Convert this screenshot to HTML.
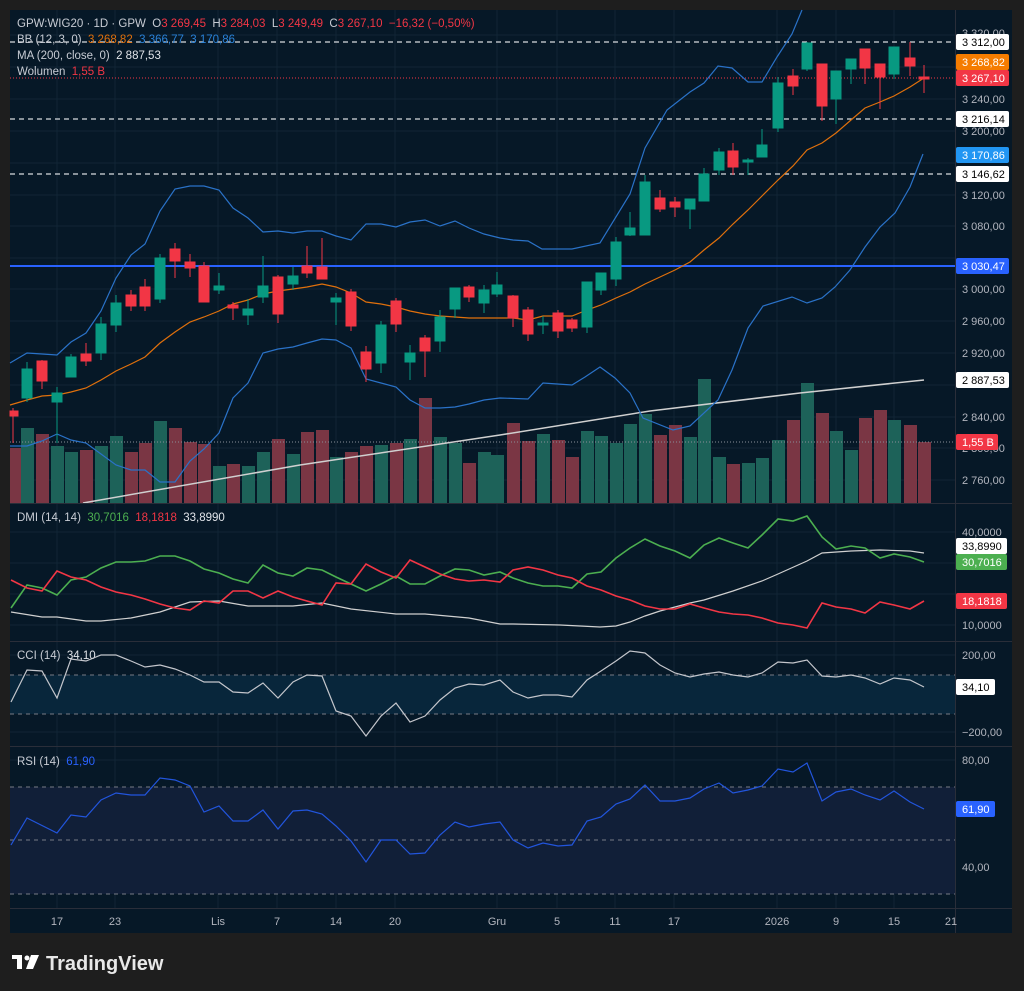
<!DOCTYPE html>
<html><head><meta charset="utf-8"><style>
html,body{margin:0;padding:0;background:#1e1e1e;}
svg{display:block;font-family:"Liberation Sans",sans-serif;}
.ax{fill:#b2b5be;font-size:11px;}
.lg{font-size:11.5px;fill:#c8ccd4;white-space:pre;}
</style></head><body>
<svg width="1024" height="991" viewBox="0 0 1024 991" xmlns="http://www.w3.org/2000/svg" xml:space="preserve">
<rect width="1024" height="991" fill="#1e1e1e"/>
<rect x="10" y="10" width="1002" height="923" fill="#061827"/>
<g stroke="#112536" stroke-width="1">
<line x1="57" y1="10" x2="57" y2="908"/><line x1="115" y1="10" x2="115" y2="908"/><line x1="218" y1="10" x2="218" y2="908"/><line x1="277" y1="10" x2="277" y2="908"/><line x1="336" y1="10" x2="336" y2="908"/><line x1="395" y1="10" x2="395" y2="908"/><line x1="497" y1="10" x2="497" y2="908"/><line x1="557" y1="10" x2="557" y2="908"/><line x1="615" y1="10" x2="615" y2="908"/><line x1="674" y1="10" x2="674" y2="908"/><line x1="777" y1="10" x2="777" y2="908"/><line x1="836" y1="10" x2="836" y2="908"/><line x1="894" y1="10" x2="894" y2="908"/>
<line x1="10" y1="35" x2="955" y2="35"/><line x1="10" y1="67" x2="955" y2="67"/><line x1="10" y1="99" x2="955" y2="99"/><line x1="10" y1="131" x2="955" y2="131"/><line x1="10" y1="163" x2="955" y2="163"/><line x1="10" y1="195" x2="955" y2="195"/><line x1="10" y1="226" x2="955" y2="226"/><line x1="10" y1="258" x2="955" y2="258"/><line x1="10" y1="289" x2="955" y2="289"/><line x1="10" y1="321" x2="955" y2="321"/><line x1="10" y1="353" x2="955" y2="353"/><line x1="10" y1="385" x2="955" y2="385"/><line x1="10" y1="417" x2="955" y2="417"/><line x1="10" y1="448" x2="955" y2="448"/><line x1="10" y1="480" x2="955" y2="480"/>
<line x1="10" y1="532" x2="955" y2="532"/><line x1="10" y1="563" x2="955" y2="563"/><line x1="10" y1="594" x2="955" y2="594"/><line x1="10" y1="625" x2="955" y2="625"/>
<line x1="10" y1="655" x2="955" y2="655"/><line x1="10" y1="693" x2="955" y2="693"/><line x1="10" y1="732" x2="955" y2="732"/>
<line x1="10" y1="760" x2="955" y2="760"/><line x1="10" y1="814" x2="955" y2="814"/><line x1="10" y1="867" x2="955" y2="867"/>
</g>
<g fill="#1d6259">
<rect x="21" y="428" width="13" height="75"/><rect x="51" y="446" width="13" height="57"/><rect x="65" y="452" width="13" height="51"/><rect x="95" y="446" width="13" height="57"/><rect x="110" y="436" width="13" height="67"/><rect x="154" y="421" width="13" height="82"/><rect x="213" y="466" width="13" height="37"/><rect x="242" y="466" width="13" height="37"/><rect x="257" y="452" width="13" height="51"/><rect x="287" y="454" width="13" height="49"/><rect x="330" y="457" width="13" height="46"/><rect x="375" y="445" width="13" height="58"/><rect x="404" y="439" width="13" height="64"/><rect x="434" y="437" width="13" height="66"/><rect x="449" y="443" width="13" height="60"/><rect x="478" y="452" width="13" height="51"/><rect x="491" y="455" width="13" height="48"/><rect x="537" y="434" width="13" height="69"/><rect x="581" y="431" width="13" height="72"/><rect x="595" y="436" width="13" height="67"/><rect x="610" y="443" width="13" height="60"/><rect x="624" y="424" width="13" height="79"/><rect x="639" y="414" width="13" height="89"/><rect x="684" y="437" width="13" height="66"/><rect x="698" y="379" width="13" height="124"/><rect x="713" y="457" width="13" height="46"/><rect x="742" y="463" width="13" height="40"/><rect x="756" y="458" width="13" height="45"/><rect x="772" y="440" width="13" height="63"/><rect x="801" y="383" width="13" height="120"/><rect x="830" y="431" width="13" height="72"/><rect x="845" y="450" width="13" height="53"/><rect x="888" y="420" width="13" height="83"/>
</g>
<g fill="#7a3644">
<rect x="10" y="448" width="11" height="55"/><rect x="36" y="434" width="13" height="69"/><rect x="80" y="450" width="13" height="53"/><rect x="125" y="452" width="13" height="51"/><rect x="139" y="443" width="13" height="60"/><rect x="169" y="428" width="13" height="75"/><rect x="184" y="442" width="13" height="61"/><rect x="198" y="444" width="13" height="59"/><rect x="227" y="464" width="13" height="39"/><rect x="272" y="439" width="13" height="64"/><rect x="301" y="432" width="13" height="71"/><rect x="316" y="430" width="13" height="73"/><rect x="345" y="452" width="13" height="51"/><rect x="360" y="446" width="13" height="57"/><rect x="390" y="443" width="13" height="60"/><rect x="419" y="398" width="13" height="105"/><rect x="463" y="463" width="13" height="40"/><rect x="507" y="423" width="13" height="80"/><rect x="522" y="441" width="13" height="62"/><rect x="552" y="440" width="13" height="63"/><rect x="566" y="457" width="13" height="46"/><rect x="654" y="435" width="13" height="68"/><rect x="669" y="425" width="13" height="78"/><rect x="727" y="464" width="13" height="39"/><rect x="787" y="420" width="13" height="83"/><rect x="816" y="413" width="13" height="90"/><rect x="859" y="418" width="13" height="85"/><rect x="874" y="410" width="13" height="93"/><rect x="904" y="425" width="13" height="78"/><rect x="918" y="442" width="13" height="61"/>
</g>
<line x1="10" y1="42" x2="955" y2="42" stroke="#d8dbe0" stroke-width="1.3" stroke-dasharray="5,4"/>
<line x1="10" y1="119" x2="955" y2="119" stroke="#d8dbe0" stroke-width="1.3" stroke-dasharray="5,4"/>
<line x1="10" y1="174" x2="955" y2="174" stroke="#d8dbe0" stroke-width="1.3" stroke-dasharray="5,4"/>
<line x1="10" y1="78" x2="955" y2="78" stroke="#f23645" stroke-width="1" stroke-dasharray="1,2"/>
<line x1="10" y1="442" x2="955" y2="442" stroke="#8a8f99" stroke-width="1" stroke-dasharray="1,2"/>
<line x1="10" y1="266" x2="955" y2="266" stroke="#2962ff" stroke-width="2"/>
<polyline fill="none" stroke="#d0d0d0" stroke-width="1.5" points="83,503 300,465 500,435 650,411 800,393 924,380"/>
<polyline fill="none" stroke="#2a72c8" stroke-width="1.2" points="10,363 27,353 57,355 71,342 86,333 101,311 116,278 131,255 145,244 160,211 175,189 190,186 204,186 219,190 233,208 248,218 263,232 278,231 293,233 307,231 322,231 336,236 351,240 366,224 381,224 396,227 410,222 425,220 440,226 455,221 469,228 484,234 500,238 513,240 528,241 542,249 572,249 600,243 630,194 645,148 667,110 690,92 704,83 718,66 732,68 748,82 762,82 777,57 792,34 802,10"/>
<polyline fill="none" stroke="#2a72c8" stroke-width="1.2" points="10,446 27,446 42,441 57,434 71,440 86,443 101,454 116,465 131,470 145,470 160,482 175,482 190,461 204,449 219,433 233,398 248,383 263,353 278,349 293,347 307,343 322,339 336,340 351,348 366,379 381,383 396,387 410,400 425,408 440,408 455,407 469,404 484,400 500,398 528,399 543,383 572,385 585,377 600,367 615,378 630,393 643,418 673,430 690,426 718,400 732,370 748,328 763,306 792,297 807,303 822,298 835,287 850,270 865,247 880,227 895,213 910,187 923,154"/>
<polyline fill="none" stroke="#e0700c" stroke-width="1.2" points="10,405 27,400 42,396 57,395 71,392 86,388 101,380 116,371 131,364 145,357 160,343 175,332 190,322 204,317 219,311 233,304 248,300 263,294 278,291 293,289 307,287 322,284 336,287 351,293 366,302 381,304 396,307 410,311 425,314 440,316 455,317 469,318 500,318 513,318 528,320 543,316 572,316 587,310 601,305 616,298 630,292 645,284 660,277 675,270 690,262 704,250 719,238 733,224 748,210 762,196 778,180 793,166 807,150 822,143 836,133 851,120 865,108 880,102 894,96 910,87 924,78"/>
<g stroke="#089981" stroke-width="1" fill="#089981">
<line x1="27" y1="362" x2="27" y2="402"/><rect x="22" y="369" width="10" height="29"/>
<line x1="57" y1="387" x2="57" y2="443"/><rect x="52" y="393" width="10" height="9"/>
<line x1="71" y1="354" x2="71" y2="377"/><rect x="66" y="357" width="10" height="20"/>
<line x1="101" y1="317" x2="101" y2="360"/><rect x="96" y="324" width="10" height="29"/>
<line x1="116" y1="295" x2="116" y2="332"/><rect x="111" y="303" width="10" height="22"/>
<line x1="160" y1="254" x2="160" y2="303"/><rect x="155" y="258" width="10" height="41"/>
<line x1="219" y1="273" x2="219" y2="294"/><rect x="214" y="286" width="10" height="4"/>
<line x1="248" y1="299" x2="248" y2="325"/><rect x="243" y="309" width="10" height="6"/>
<line x1="263" y1="256" x2="263" y2="303"/><rect x="258" y="286" width="10" height="11"/>
<line x1="293" y1="267" x2="293" y2="290"/><rect x="288" y="276" width="10" height="8"/>
<line x1="336" y1="293" x2="336" y2="325"/><rect x="331" y="298" width="10" height="4"/>
<line x1="381" y1="321" x2="381" y2="373"/><rect x="376" y="325" width="10" height="38"/>
<line x1="410" y1="345" x2="410" y2="380"/><rect x="405" y="353" width="10" height="9"/>
<line x1="440" y1="310" x2="440" y2="352"/><rect x="435" y="317" width="10" height="24"/>
<line x1="455" y1="288" x2="455" y2="318"/><rect x="450" y="288" width="10" height="21"/>
<line x1="484" y1="285" x2="484" y2="313"/><rect x="479" y="290" width="10" height="13"/>
<line x1="497" y1="272" x2="497" y2="297"/><rect x="492" y="285" width="10" height="9"/>
<line x1="543" y1="316" x2="543" y2="334"/><rect x="538" y="323" width="10" height="2"/>
<line x1="587" y1="282" x2="587" y2="333"/><rect x="582" y="282" width="10" height="45"/>
<line x1="601" y1="273" x2="601" y2="295"/><rect x="596" y="273" width="10" height="17"/>
<line x1="616" y1="237" x2="616" y2="286"/><rect x="611" y="242" width="10" height="37"/>
<line x1="630" y1="212" x2="630" y2="236"/><rect x="625" y="228" width="10" height="7"/>
<line x1="645" y1="175" x2="645" y2="235"/><rect x="640" y="182" width="10" height="53"/>
<line x1="690" y1="199" x2="690" y2="229"/><rect x="685" y="199" width="10" height="10"/>
<line x1="704" y1="168" x2="704" y2="201"/><rect x="699" y="174" width="10" height="27"/>
<line x1="719" y1="148" x2="719" y2="175"/><rect x="714" y="152" width="10" height="18"/>
<line x1="748" y1="158" x2="748" y2="175"/><rect x="743" y="160" width="10" height="2"/>
<line x1="762" y1="129" x2="762" y2="157"/><rect x="757" y="145" width="10" height="12"/>
<line x1="778" y1="77" x2="778" y2="132"/><rect x="773" y="83" width="10" height="45"/>
<line x1="807" y1="42" x2="807" y2="71"/><rect x="802" y="43" width="10" height="26"/>
<line x1="836" y1="71" x2="836" y2="124"/><rect x="831" y="71" width="10" height="28"/>
<line x1="851" y1="59" x2="851" y2="84"/><rect x="846" y="59" width="10" height="10"/>
<line x1="894" y1="47" x2="894" y2="79"/><rect x="889" y="47" width="10" height="27"/>
</g>
<g stroke="#f23645" stroke-width="1" fill="#f23645">
<line x1="13" y1="408" x2="13" y2="443"/><rect x="10" y="411" width="8" height="5"/>
<line x1="42" y1="360" x2="42" y2="389"/><rect x="37" y="361" width="10" height="20"/>
<line x1="86" y1="343" x2="86" y2="366"/><rect x="81" y="354" width="10" height="7"/>
<line x1="131" y1="290" x2="131" y2="311"/><rect x="126" y="295" width="10" height="11"/>
<line x1="145" y1="279" x2="145" y2="311"/><rect x="140" y="287" width="10" height="19"/>
<line x1="175" y1="243" x2="175" y2="278"/><rect x="170" y="249" width="10" height="12"/>
<line x1="190" y1="254" x2="190" y2="277"/><rect x="185" y="262" width="10" height="6"/>
<line x1="204" y1="262" x2="204" y2="302"/><rect x="199" y="266" width="10" height="36"/>
<line x1="233" y1="302" x2="233" y2="320"/><rect x="228" y="305" width="10" height="3"/>
<line x1="278" y1="275" x2="278" y2="323"/><rect x="273" y="277" width="10" height="37"/>
<line x1="307" y1="246" x2="307" y2="278"/><rect x="302" y="266" width="10" height="7"/>
<line x1="322" y1="238" x2="322" y2="279"/><rect x="317" y="267" width="10" height="12"/>
<line x1="351" y1="289" x2="351" y2="331"/><rect x="346" y="292" width="10" height="34"/>
<line x1="366" y1="346" x2="366" y2="382"/><rect x="361" y="352" width="10" height="17"/>
<line x1="396" y1="298" x2="396" y2="332"/><rect x="391" y="301" width="10" height="23"/>
<line x1="425" y1="335" x2="425" y2="377"/><rect x="420" y="338" width="10" height="13"/>
<line x1="469" y1="285" x2="469" y2="302"/><rect x="464" y="287" width="10" height="10"/>
<line x1="513" y1="295" x2="513" y2="327"/><rect x="508" y="296" width="10" height="22"/>
<line x1="528" y1="307" x2="528" y2="341"/><rect x="523" y="310" width="10" height="24"/>
<line x1="558" y1="310" x2="558" y2="338"/><rect x="553" y="313" width="10" height="18"/>
<line x1="572" y1="318" x2="572" y2="332"/><rect x="567" y="320" width="10" height="8"/>
<line x1="660" y1="190" x2="660" y2="212"/><rect x="655" y="198" width="10" height="11"/>
<line x1="675" y1="197" x2="675" y2="217"/><rect x="670" y="202" width="10" height="5"/>
<line x1="733" y1="143" x2="733" y2="175"/><rect x="728" y="151" width="10" height="16"/>
<line x1="793" y1="69" x2="793" y2="95"/><rect x="788" y="76" width="10" height="10"/>
<line x1="822" y1="64" x2="822" y2="121"/><rect x="817" y="64" width="10" height="42"/>
<line x1="865" y1="49" x2="865" y2="84"/><rect x="860" y="49" width="10" height="19"/>
<line x1="880" y1="64" x2="880" y2="109"/><rect x="875" y="64" width="10" height="13"/>
<line x1="910" y1="42" x2="910" y2="76"/><rect x="905" y="58" width="10" height="8"/>
<line x1="924" y1="65" x2="924" y2="93"/><rect x="919" y="77" width="10" height="2"/>
</g>
<text class="lg" x="17" y="27">GPW:WIG20 · 1D · GPW  O<tspan fill="#f23645">3 269,45</tspan>  H<tspan fill="#f23645">3 284,03</tspan>  L<tspan fill="#f23645">3 249,49</tspan>  C<tspan fill="#f23645">3 267,10  −16,32 (−0,50%)</tspan></text>
<text class="lg" x="17" y="43">BB (12, 3, 0)  <tspan fill="#e0700c">3 268,82</tspan>  <tspan fill="#2a82d8">3 366,77  3 170,86</tspan></text>
<text class="lg" x="17" y="59">MA (200, close, 0)  <tspan fill="#e0e3e8">2 887,53</tspan></text>
<text class="lg" x="17" y="75">Wolumen  <tspan fill="#f23645">1,55 B</tspan></text>
<g stroke="#2a2e39" stroke-width="1">
<line x1="10" y1="503.5" x2="1012" y2="503.5"/><line x1="10" y1="641.5" x2="1012" y2="641.5"/><line x1="10" y1="746.5" x2="1012" y2="746.5"/><line x1="10" y1="908.5" x2="1012" y2="908.5"/><line x1="955.5" y1="10" x2="955.5" y2="933"/>
</g>
<text class="lg" x="17" y="521">DMI (14, 14)  <tspan fill="#4caf50">30,7016</tspan>  <tspan fill="#f23645">18,1818</tspan>  <tspan fill="#e0e3e8">33,8990</tspan></text>
<polyline fill="none" stroke="#d0d0d0" stroke-width="1.2" points="11,612 42,617 57,617 86,621 101,621 131,618 160,612 190,602 219,601 248,606 293,606 322,603 351,609 396,614 425,614 469,618 500,624 513,624 560,625 600,627 616,626 630,622 645,616 660,611 675,607 690,603 704,600 733,591 762,581 778,574 807,561 822,553 851,551 880,550 910,551 924,553"/>
<polyline fill="none" stroke="#4caf50" stroke-width="1.6" points="11,608 27,585 42,588 57,595 71,580 86,577 101,568 116,562 131,562 145,561 160,556 175,556 190,561 204,569 219,573 233,579 248,583 263,565 278,573 293,576 307,568 322,570 336,577 351,584 366,591 381,584 396,576 410,584 425,584 440,576 455,569 469,570 484,575 500,572 513,578 528,583 543,586 558,586 572,588 587,574 601,572 616,558 630,548 645,539 660,546 675,551 690,558 704,545 719,538 733,543 748,548 762,535 778,519 793,521 807,516 822,537 836,549 851,546 865,548 880,558 894,554 910,557 924,562"/>
<polyline fill="none" stroke="#f23645" stroke-width="1.6" points="11,580 27,588 42,591 57,571 71,577 86,580 101,587 116,592 131,595 145,599 160,604 175,608 190,610 204,601 219,603 233,591 248,591 263,598 278,591 293,597 307,601 322,605 336,583 351,584 366,564 381,572 396,578 410,560 425,567 440,574 455,579 469,581 484,580 500,582 513,570 528,567 543,570 558,575 572,578 587,586 601,590 616,596 630,600 645,606 660,609 675,609 690,604 704,608 719,612 733,614 748,615 762,618 778,623 793,625 807,628 822,603 836,607 851,609 865,613 880,602 894,605 910,609 924,601"/>
<rect x="10" y="675" width="945" height="39" fill="#08263b"/>
<line x1="10" y1="675" x2="955" y2="675" stroke="#787b86" stroke-dasharray="4,4"/>
<line x1="10" y1="714" x2="955" y2="714" stroke="#787b86" stroke-dasharray="4,4"/>
<text class="lg" x="17" y="659">CCI (14)  <tspan fill="#e0e3e8">34,10</tspan></text>
<polyline fill="none" stroke="#c4c6cc" stroke-width="1.2" points="11,702 27,670 42,671 57,698 71,659 86,661 101,655 116,655 131,661 145,667 160,665 175,669 190,675 204,682 219,682 233,692 248,693 263,683 278,698 293,682 307,675 322,676 336,711 351,716 366,736 381,716 396,703 410,722 425,716 440,700 455,688 469,684 484,685 500,680 513,692 528,698 543,695 558,695 572,697 587,680 601,671 616,661 630,651 645,653 660,665 675,673 690,677 704,674 719,672 733,675 748,677 762,673 778,662 793,663 807,660 822,676 836,677 851,675 865,678 880,684 894,678 910,680 924,687"/>
<rect x="10" y="787" width="945" height="107" fill="#111f38"/>
<line x1="10" y1="787" x2="955" y2="787" stroke="#787b86" stroke-dasharray="4,4"/>
<line x1="10" y1="840" x2="955" y2="840" stroke="#787b86" stroke-dasharray="4,4"/>
<line x1="10" y1="894" x2="955" y2="894" stroke="#787b86" stroke-dasharray="4,4"/>
<text class="lg" x="17" y="765">RSI (14)  <tspan fill="#2962ff">61,90</tspan></text>
<polyline fill="none" stroke="#2255dd" stroke-width="1.2" points="11,845 27,818 57,833 71,815 86,817 101,800 116,793 131,795 145,795 160,778 175,780 190,786 204,812 219,806 233,821 248,821 263,810 278,829 293,811 307,810 322,814 336,826 351,841 366,862 381,840 396,840 410,854 425,853 440,835 455,822 469,827 484,824 500,822 513,840 528,848 543,843 558,846 572,845 587,821 601,817 616,804 630,799 645,785 660,801 675,801 690,798 704,789 719,783 733,793 748,790 762,786 778,769 793,772 807,763 822,801 836,792 851,789 865,795 880,800 894,791 910,802 924,809"/>
<g class="ax">
<text x="962" y="37">3 320,00</text>
<text x="962" y="103">3 240,00</text>
<text x="962" y="135">3 200,00</text>
<text x="962" y="199">3 120,00</text>
<text x="962" y="230">3 080,00</text>
<text x="962" y="293">3 000,00</text>
<text x="962" y="325">2 960,00</text>
<text x="962" y="357">2 920,00</text>
<text x="962" y="421">2 840,00</text>
<text x="962" y="452">2 800,00</text>
<text x="962" y="484">2 760,00</text>
<text x="962" y="536">40,0000</text>
<text x="962" y="629">10,0000</text>
<text x="962" y="659">200,00</text>
<text x="962" y="736">−200,00</text>
<text x="962" y="764">80,00</text>
<text x="962" y="871">40,00</text>
</g>
<g font-size="11px">
<rect x="956" y="34" width="53" height="16" rx="2" fill="#ffffff"/><text x="962" y="46" fill="#000">3 312,00</text>
<rect x="956" y="54" width="53" height="16" rx="2" fill="#f57c00"/><text x="962" y="66" fill="#fff">3 268,82</text>
<rect x="956" y="70" width="53" height="16" rx="2" fill="#f23645"/><text x="962" y="82" fill="#fff">3 267,10</text>
<rect x="956" y="111" width="53" height="16" rx="2" fill="#ffffff"/><text x="962" y="123" fill="#000">3 216,14</text>
<rect x="956" y="147" width="53" height="16" rx="2" fill="#2196f3"/><text x="962" y="159" fill="#fff">3 170,86</text>
<rect x="956" y="166" width="53" height="16" rx="2" fill="#ffffff"/><text x="962" y="178" fill="#000">3 146,62</text>
<rect x="956" y="258" width="53" height="16" rx="2" fill="#2962ff"/><text x="962" y="270" fill="#fff">3 030,47</text>
<rect x="956" y="372" width="53" height="16" rx="2" fill="#ffffff"/><text x="962" y="384" fill="#000">2 887,53</text>
<rect x="956" y="434" width="42" height="16" rx="2" fill="#f23645"/><text x="962" y="446" fill="#fff">1,55 B</text>
<rect x="956" y="538" width="51" height="16" rx="2" fill="#ffffff"/><text x="962" y="550" fill="#000">33,8990</text>
<rect x="956" y="554" width="51" height="16" rx="2" fill="#4caf50"/><text x="962" y="566" fill="#fff">30,7016</text>
<rect x="956" y="593" width="51" height="16" rx="2" fill="#f23645"/><text x="962" y="605" fill="#fff">18,1818</text>
<rect x="956" y="679" width="39" height="16" rx="2" fill="#ffffff"/><text x="962" y="691" fill="#000">34,10</text>
<rect x="956" y="801" width="39" height="16" rx="2" fill="#2962ff"/><text x="962" y="813" fill="#fff">61,90</text>
</g>
<g class="ax" font-size="12px" text-anchor="middle">
<text x="57" y="925">17</text><text x="115" y="925">23</text><text x="218" y="925">Lis</text><text x="277" y="925">7</text><text x="336" y="925">14</text><text x="395" y="925">20</text><text x="497" y="925">Gru</text><text x="557" y="925">5</text><text x="615" y="925">11</text><text x="674" y="925">17</text><text x="777" y="925">2026</text><text x="836" y="925">9</text><text x="894" y="925">15</text><text x="951" y="925">21</text>
</g>
<g fill="#ffffff">
<rect x="12" y="955" width="10" height="4"/><rect x="17" y="955" width="5" height="14"/>
<circle cx="27" cy="958" r="2.5"/>
<polygon points="31,955 39,955 33,969 26,969"/>
</g>
<text x="46" y="970" font-size="20px" font-weight="bold" fill="#e8e8e8">TradingView</text>
</svg>
</body></html>
